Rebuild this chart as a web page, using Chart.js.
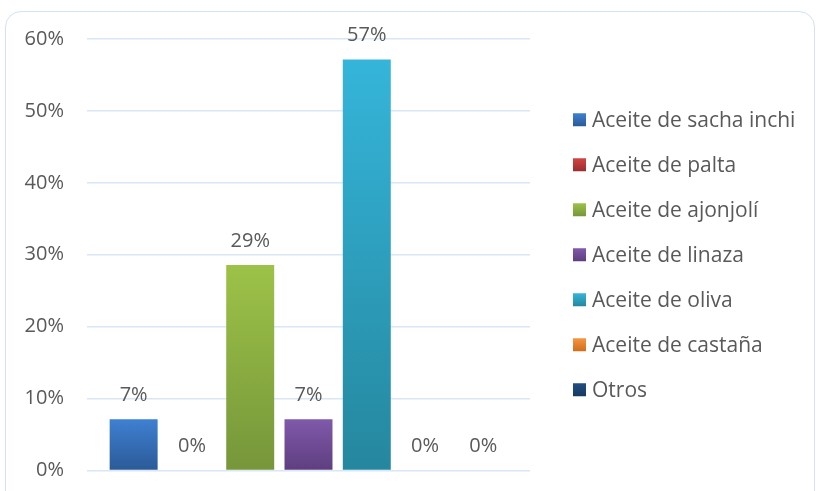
<!DOCTYPE html>
<html>
<head>
<meta charset="utf-8">
<script src="https://cdn.jsdelivr.net/npm/chart.js@4/dist/chart.umd.min.js"></script>
<style>
  html, body { margin: 0; padding: 0; background: #ffffff; }
  #wrap { position: relative; width: 819px; height: 491px; overflow: hidden; }
  #frame { position: absolute; left: 5px; top: 11px; width: 810px; height: 520px;
           border: 1.5px solid #d3e2f4; border-radius: 16px; box-sizing: border-box; }
  canvas { position: absolute; left: 0; top: 0; }
</style>
</head>
<body>
<div id="wrap">
  <div id="frame"></div>
  <canvas id="c" width="819" height="491"></canvas>
</div>
<script>
const categories = ['Aceite de sacha inchi', 'Aceite de palta', 'Aceite de ajonjolí', 'Aceite de linaza', 'Aceite de oliva', 'Aceite de castaña', 'Otros'];
const values = [7.14, 0, 28.57, 7.14, 57.14, 0, 0];
const yTicks = [0, 10, 20, 30, 40, 50, 60];
const topColors = ['#3f80d2', '#d24444', '#9dc248', '#8059ab', '#35b5da', '#f7963f', '#1f4f82'];
const bottomColors = ['#2b5a97', '#9c2d2d', '#76963a', '#5e3e7f', '#25879e', '#cf6f1c', '#173a62'];

const FONT = '"Open Sans", "Liberation Sans", sans-serif';
const TEXT = '#595959';

function barGradient(ctx, i) {
  const chart = ctx.chart;
  const y = chart.scales && chart.scales.y;
  if (!y || !chart.chartArea) return topColors[i];
  const top = y.getPixelForValue(values[i]);
  const bot = y.getPixelForValue(0);
  const g = chart.ctx.createLinearGradient(0, top, 0, Math.max(bot, top + 1));
  g.addColorStop(0, topColors[i]);
  g.addColorStop(1, bottomColors[i]);
  return g;
}

const datasets = categories.map((name, i) => ({
  label: name,
  data: [values[i]],
  backgroundColor: (ctx) => barGradient(ctx, i),
  borderWidth: 0,
  categoryPercentage: 0.921,
  barPercentage: 0.823
}));

const labelPlugin = {
  id: 'valueLabels',
  afterDatasetsDraw(chart) {
    const c = chart.ctx;
    c.save();
    c.font = '20px ' + FONT;
    c.fillStyle = TEXT;
    c.textAlign = 'center';
    c.textBaseline = 'middle';
    chart.data.datasets.forEach((ds, i) => {
      const el = chart.getDatasetMeta(i).data[0];
      if (!el) return;
      c.fillText(Math.round(ds.data[0]) + '%', el.x, el.y - 24);
    });
    c.restore();
  }
};

const legendPlugin = {
  id: 'sideLegend',
  afterDraw(chart) {
    const c = chart.ctx;
    const area = chart.chartArea;
    const n = chart.data.datasets.length;
    const step = 45;
    const mid = (area.top + area.bottom) / 2;
    const boxX = area.right + 43;
    c.save();
    c.font = '21px ' + FONT;
    c.textAlign = 'left';
    c.textBaseline = 'middle';
    chart.data.datasets.forEach((ds, i) => {
      const cy = mid + (i - (n - 1) / 2) * step;
      const g = c.createLinearGradient(0, cy - 6.5, 0, cy + 6.5);
      g.addColorStop(0, topColors[i]);
      g.addColorStop(1, bottomColors[i]);
      c.fillStyle = g;
      c.fillRect(boxX, cy - 6.5, 13, 13);
      c.fillStyle = TEXT;
      c.fillText(ds.label, boxX + 19, cy + 1);
    });
    c.restore();
  }
};

new Chart(document.getElementById('c'), {
  type: 'bar',
  data: { labels: [''], datasets },
  options: {
    responsive: false,
    animation: false,
    layout: { padding: { left: 0, right: 289, top: 39, bottom: 20.5 } },
    plugins: { legend: { display: false }, tooltip: { enabled: false } },
    scales: {
      x: { display: false, offset: true },
      y: {
        min: 0, max: 60,
        afterBuildTicks(scale) { scale.ticks = yTicks.map(v => ({ value: v })); },
        afterFit(scale) { scale.width = 87; scale.paddingTop = 0; scale.paddingBottom = 0; },
        border: { display: false },
        grid: { color: '#d9e6f5', lineWidth: 1.5, drawTicks: false },
        ticks: {
          padding: 23,
          color: TEXT,
          font: { family: FONT, size: 20 },
          callback: (v) => v + '%'
        }
      }
    }
  },
  plugins: [labelPlugin, legendPlugin]
});
</script>
</body>
</html>
